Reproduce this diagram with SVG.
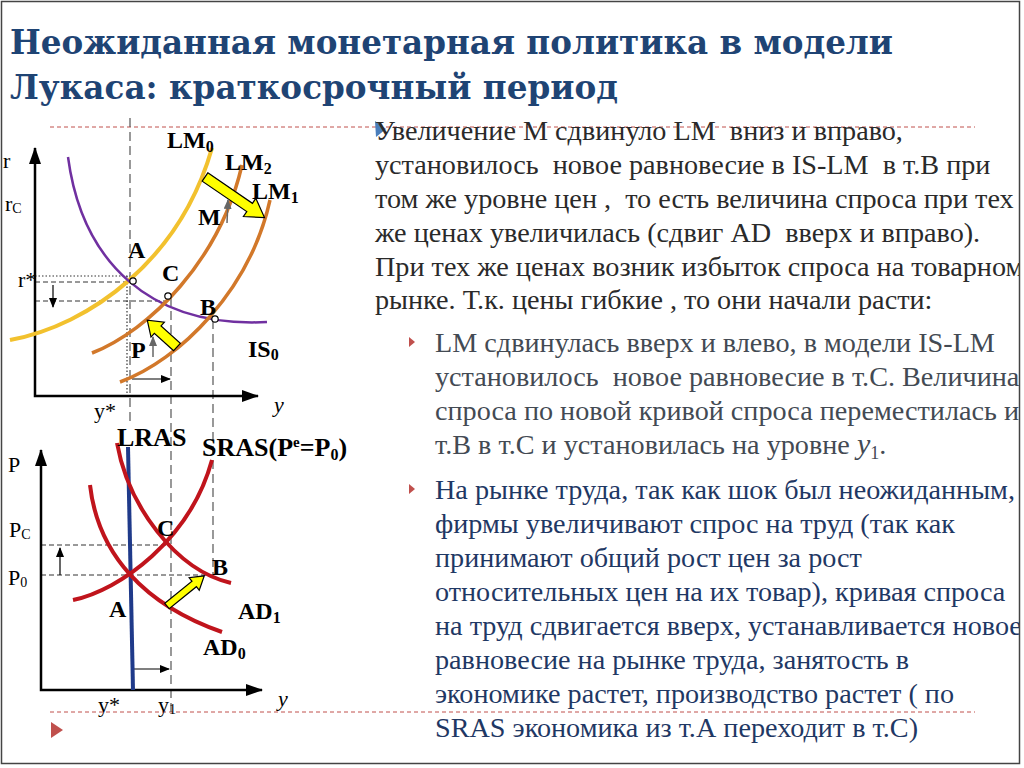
<svg xmlns="http://www.w3.org/2000/svg" width="1024" height="768" viewBox="0 0 1024 768">
<defs>
<style>
.title{font-family:"DejaVu Serif","Liberation Serif",serif;font-weight:bold;font-size:34px;fill:#1f4474}
.body{font-family:"Liberation Serif","Times New Roman",serif;font-size:28.2px}
.p1{fill:#2a2a2a}.b1{fill:#434a53}.b2{fill:#1f3864}
.lbl{font-family:"Liberation Serif","Times New Roman",serif;font-weight:bold;font-size:24px;fill:#000}
.big{font-size:26px}
.ax{font-family:"Liberation Serif","Times New Roman",serif;font-size:22px;fill:#000}
.axis{stroke:#000;stroke-width:2.5;fill:none}
.dash{stroke:#333;stroke-width:1;stroke-dasharray:5 3;fill:none}
.ldash{stroke:#555;stroke-width:1.2;stroke-dasharray:9 5;fill:none}
.dot{stroke:#333;stroke-width:1.2;stroke-dasharray:1.5 2;fill:none}
.red{stroke:#c0504d;stroke-width:1;stroke-dasharray:4 3;fill:none}
.yarrow{fill:#ffff00;stroke:#000;stroke-width:1.2}
.pt{fill:#fff;stroke:#000;stroke-width:1.2}
.thin{stroke:#000;stroke-width:1.2;fill:none}
.gthin{stroke:#666;stroke-width:1.5;fill:none}
</style>
<marker id="axh" markerUnits="userSpaceOnUse" markerWidth="18" markerHeight="12" refX="16" refY="6" orient="auto-start-reverse"><path d="M0,0 L17,6 L0,12 z" fill="#000"/></marker>
<marker id="sh" markerUnits="userSpaceOnUse" markerWidth="10" markerHeight="8" refX="9" refY="4" orient="auto"><path d="M0,0 L10,4 L0,8 z" fill="#000"/></marker>
<marker id="gh" markerUnits="userSpaceOnUse" markerWidth="10" markerHeight="8" refX="9" refY="4" orient="auto"><path d="M0,0 L10,4 L0,8 z" fill="#666"/></marker>
<clipPath id="clipR"><rect x="0" y="0" width="1019" height="768"/></clipPath>
</defs>

<rect x="0" y="0" width="1024" height="768" fill="#fff"/>
<rect x="1.5" y="1.5" width="1018" height="762" fill="none" stroke="#444" stroke-width="1.5"/>

<g id="title">
<text class="title" x="10" y="54" textLength="883" lengthAdjust="spacingAndGlyphs">Неожиданная монетарная политика в модели</text>
<text class="title" x="10" y="99" textLength="608" lengthAdjust="spacingAndGlyphs">Лукаса: краткосрочный период</text>
</g>

<g id="guides">
<line class="red" x1="50" y1="127" x2="975" y2="127"/>
<line class="red" x1="50" y1="712" x2="975" y2="712"/>
<polygon points="51,722 63,730 51,738" fill="#c0504d"/>
<polygon points="375,121 386,129 376,137" fill="#4a7ebb"/>
</g>

<g id="text" clip-path="url(#clipR)">
<g class="body p1">
<text x="375" y="140" xml:space="preserve">Увеличение M сдвинуло LM  вниз и вправо,</text>
<text x="375" y="174" xml:space="preserve">установилось  новое равновесие в IS-LM  в т.В при</text>
<text x="375" y="208" xml:space="preserve">том же уровне цен ,  то есть величина спроса при тех</text>
<text x="375" y="242" xml:space="preserve">же ценах увеличилась (сдвиг AD  вверх и вправо).</text>
<text x="375" y="276" xml:space="preserve">При тех же ценах возник избыток спроса на товарном</text>
<text x="375" y="309" xml:space="preserve">рынке. Т.к. цены гибкие , то они начали расти:</text>
</g>
<polygon points="409,337 415,342 409,347" fill="#c0504d"/>
<g class="body b1">
<text x="435" y="352">LM сдвинулась вверх и влево, в модели IS-LM</text>
<text x="435" y="386" xml:space="preserve">установилось  новое равновесие в т.С. Величина</text>
<text x="435" y="420">спроса по новой кривой спроса переместилась и</text>
<text x="435" y="454">т.В в т.С и установилась на уровне <tspan font-style="italic" font-size="30">y</tspan><tspan font-size="18" dy="5">1</tspan><tspan dy="-5">.</tspan></text>
</g>
<polygon points="409,484 415,489 409,494" fill="#c0504d"/>
<g class="body b2">
<text x="435" y="499">На рынке труда, так как шок был неожиданным,</text>
<text x="435" y="533">фирмы увеличивают спрос на труд (так как</text>
<text x="435" y="567">принимают общий рост цен за рост</text>
<text x="435" y="601">относительных цен на их товар), кривая спроса</text>
<text x="435" y="635">на труд сдвигается вверх, устанавливается новое</text>
<text x="435" y="669">равновесие на рынке труда, занятость в</text>
<text x="435" y="703">экономике растет, производство растет ( по</text>
<text x="435" y="737">SRAS экономика из т.А переходит в т.С)</text>
</g>
</g>

<g id="islm">
<g id="islm-guides">
<line class="ldash" x1="130" y1="118" x2="130" y2="422"/>
<line class="dot" x1="127" y1="276" x2="127" y2="396"/>
<line class="dot" x1="35" y1="276" x2="130" y2="276"/>
<line class="dash" x1="35" y1="282" x2="130" y2="282"/>
<line class="dash" x1="35" y1="301" x2="168" y2="301"/>
<line class="ldash" x1="171" y1="297" x2="171" y2="712"/>
<line class="ldash" x1="213" y1="320" x2="213" y2="575"/>
<line class="thin" x1="53" y1="285" x2="53" y2="307" marker-end="url(#sh)"/>
<line class="thin" x1="132" y1="379" x2="170" y2="379" marker-end="url(#sh)"/>
</g>
<path class="axis" d="M35,148 L35,396 L258,396" marker-start="url(#axh)" marker-end="url(#axh)"/>
<g id="curve-LM0"><path d="M10,340 C90,325 180,260 212,148" fill="none" stroke="#f2c12e" stroke-width="4"/></g>
<g id="curve-IS0"><path d="M68,157 C82,262 150,328 267,322" fill="none" stroke="#7030a0" stroke-width="2.5"/></g>
<g id="curve-LM2"><path d="M92,353 C150,330 220,260 242,165" fill="none" stroke="#d2782a" stroke-width="3.5"/></g>
<g id="curve-LM1"><path d="M120,382 C180,360 250,290 270,200" fill="none" stroke="#d2782a" stroke-width="3.5"/></g>
<circle class="pt" cx="133" cy="281" r="3.2"/>
<circle class="pt" cx="168" cy="296" r="3.2"/>
<circle class="pt" cx="215" cy="319" r="3.2"/>
<polygon class="yarrow" transform="translate(205,177) rotate(34.3)" points="0,-5 54,-5 54,-11 72,0 54,11 54,5 0,5"/>
<polygon class="yarrow" transform="translate(177,347) rotate(222)" points="0,-5 26,-5 26,-10 40,0 26,10 26,5 0,5"/>
<line class="gthin" x1="153" y1="357" x2="153" y2="337" marker-end="url(#gh)"/>
<line class="gthin" x1="227" y1="223" x2="228" y2="200" marker-end="url(#gh)"/>
<text class="ax" x="3" y="168">r</text>
<text class="ax" x="5" y="211">r<tspan font-size="14" dy="2">C</tspan></text>
<text class="ax" x="18" y="287">r*</text>
<text class="ax" x="94" y="418">y*</text>
<text class="ax" x="274" y="412" font-style="italic" font-size="24">y</text>
<text class="lbl" x="167" y="148">LM<tspan font-size="16" dy="4">0</tspan></text>
<text class="lbl" x="225" y="170">LM<tspan font-size="16" dy="4">2</tspan></text>
<text class="lbl" x="252" y="199">LM<tspan font-size="16" dy="4">1</tspan></text>
<text class="lbl" x="198" y="225">M</text>
<text class="lbl" x="128" y="258">A</text>
<text class="lbl" x="162" y="281">C</text>
<text class="lbl" x="200" y="315">B</text>
<text class="lbl" x="131" y="358">P</text>
<text class="lbl" x="248" y="357">IS<tspan font-size="16" dy="3">0</tspan></text>
</g>

<g id="asad">
<line class="dash" x1="41" y1="545" x2="170" y2="545"/>
<line class="dash" x1="41" y1="575" x2="212" y2="575"/>
<line class="thin" x1="60" y1="575" x2="60" y2="548" marker-end="url(#sh)"/>
<line class="thin" x1="133" y1="669" x2="169" y2="669" marker-end="url(#sh)"/>
<path class="axis" d="M41,450 L41,690 L262,690" marker-start="url(#axh)" marker-end="url(#axh)"/>
<g id="curve-LRAS"><line x1="128" y1="447" x2="133" y2="690" stroke="#1f3a8a" stroke-width="4"/></g>
<g id="curve-SRAS"><path d="M73,600 C120,590 190,540 212,460" fill="none" stroke="#c0141c" stroke-width="4"/></g>
<g id="curve-AD0"><path d="M90,485 C98,555 145,605 222,632" fill="none" stroke="#c0141c" stroke-width="4"/></g>
<g id="curve-AD1"><path d="M117,443 C128,505 175,570 231,583" fill="none" stroke="#c0141c" stroke-width="4"/></g>
<polygon class="yarrow" transform="translate(167,606) rotate(-39)" points="0,-3.5 35,-3.5 35,-8 48,0 35,8 35,3.5 0,3.5"/>
<text class="ax" x="8" y="472">P</text>
<text class="ax" x="9" y="537">P<tspan font-size="14" dy="2">C</tspan></text>
<text class="ax" x="8" y="585">P<tspan font-size="14" dy="2">0</tspan></text>
<text class="ax" x="98" y="712">y*</text>
<text class="ax" x="158" y="712">y<tspan font-size="14" dy="2">1</tspan></text>
<text class="ax" x="278" y="706" font-style="italic" font-size="24">y</text>
<text class="lbl big" x="117" y="446">LRAS</text>
<text class="lbl big" x="202" y="456">SRAS(P<tspan font-size="15" dy="-9">e</tspan><tspan dy="9">=P</tspan><tspan font-size="16" dy="4">0</tspan><tspan dy="-4">)</tspan></text>
<text class="lbl" x="157" y="536">C</text>
<text class="lbl" x="212" y="575">B</text>
<text class="lbl" x="109" y="617">A</text>
<text class="lbl" x="238" y="619">AD<tspan font-size="16" dy="4">1</tspan></text>
<text class="lbl" x="203" y="655">AD<tspan font-size="16" dy="4">0</tspan></text>
</g>
</svg>
